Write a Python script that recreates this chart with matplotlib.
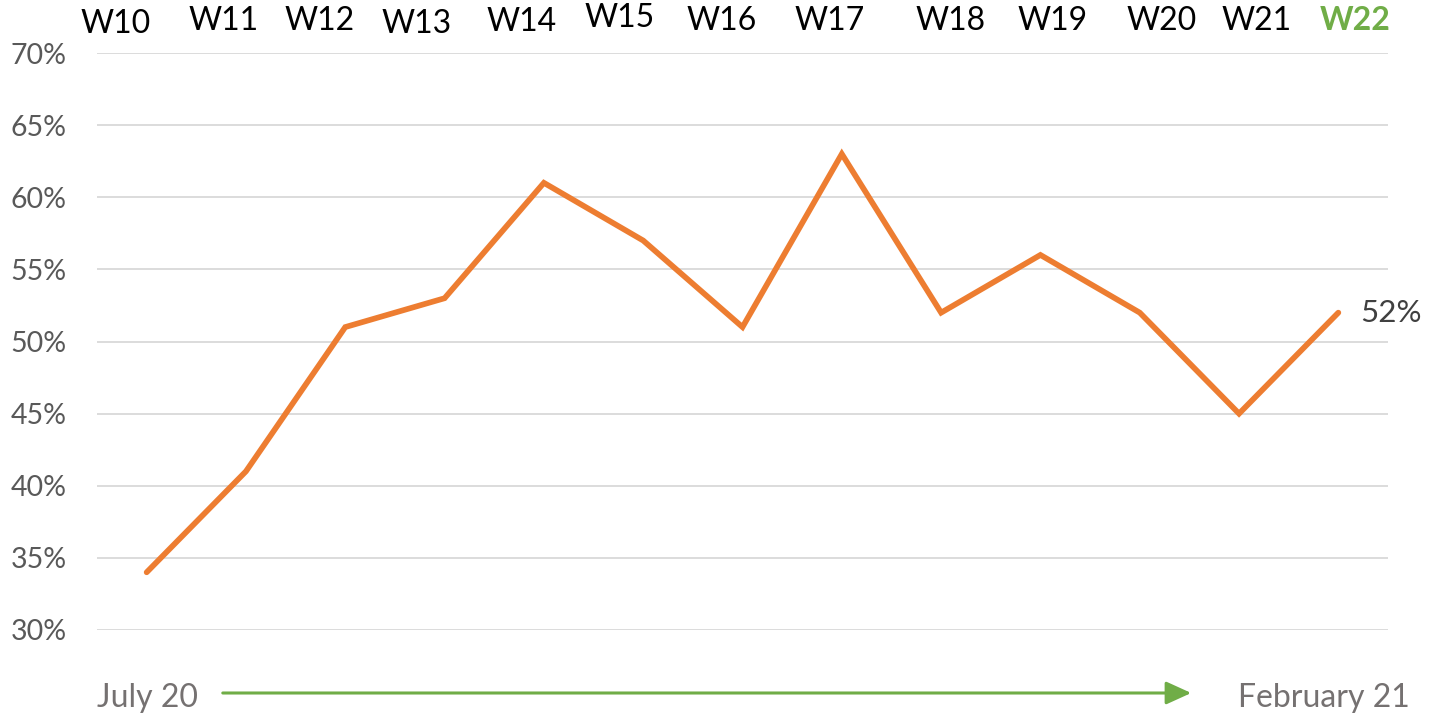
import matplotlib
matplotlib.use('Agg')
import matplotlib.pyplot as plt
from matplotlib.ticker import FuncFormatter

plt.rcParams['font.family'] = ['Lato', 'DejaVu Sans']

# data
weeks = ['W10', 'W11', 'W12', 'W13', 'W14', 'W15', 'W16',
         'W17', 'W18', 'W19', 'W20', 'W21', 'W22']
share = [0.34, 0.41, 0.51, 0.53, 0.61, 0.57, 0.51,
         0.63, 0.52, 0.56, 0.52, 0.45, 0.52]
yticks = [0.30, 0.35, 0.40, 0.45, 0.50, 0.55, 0.60, 0.65, 0.70]
start_label = 'July 20'
end_label = 'February 21'

# layout of the hand placed week labels (pixels)
week_px = [116, 224, 320, 417, 522, 620, 722, 830, 951, 1053, 1162, 1257, 1355]
week_py = [24, 21, 21, 24, 22, 18, 21, 21, 21, 21, 21, 21, 21]

W, H = 1439, 720
orange = '#ED7D31'
green = '#70AD47'
grey = '#595959'

fig = plt.figure(figsize=(W / 100, H / 100), dpi=100)
ax = fig.add_axes([97 / W, 1 - 630 / H, (1388 - 97) / W, (630 - 53) / H])

x = list(range(len(share)))
ax.plot(x, share, color=orange, lw=4.1, solid_joinstyle='miter', solid_capstyle='round')
ax.set_xlim(-0.5, len(share) - 0.5)
ax.set_ylim(0.30, 0.70)
ax.set_yticks(yticks)
ax.yaxis.set_major_formatter(FuncFormatter(lambda v, p: '{:.0f}%'.format(v * 100)))
ax.set_xticks([])
ax.grid(axis='y', color='#D9D9D9', lw=1.3)
ax.set_axisbelow(True)
for s in ax.spines.values():
    s.set_visible(False)
ax.tick_params(axis='y', length=0, pad=22, labelsize=20.5, labelcolor=grey)

# last value label
ax.annotate('{:.0f}%'.format(share[-1] * 100), (x[-1], share[-1]),
            xytext=(16, 0), textcoords='offset points', va='center', ha='left',
            fontsize=22.5, color='#404040')

# week labels on top
for i, w in enumerate(weeks):
    last = i == len(weeks) - 1
    fig.text(week_px[i] / W, 1 - week_py[i] / H, w, ha='center', va='center',
             fontsize=23, color=green if last else 'black',
             fontweight='bold' if last else 'normal')

# timeline at the bottom
fig.text(97 / W, 1 - 698 / H, start_label, ha='left', va='center', fontsize=23, color='#757171')
fig.text(1410 / W, 1 - 698 / H, end_label, ha='right', va='center', fontsize=23, color='#757171')
fig.patches.append(matplotlib.patches.FancyArrowPatch(
    (220 / W, 1 - 693 / H), (1194 / W, 1 - 693 / H), transform=fig.transFigure,
    arrowstyle='-|>,head_length=1.1,head_width=0.5', mutation_scale=14,
    color=green, lw=2.2))

fig.savefig('out.png', dpi=100)
